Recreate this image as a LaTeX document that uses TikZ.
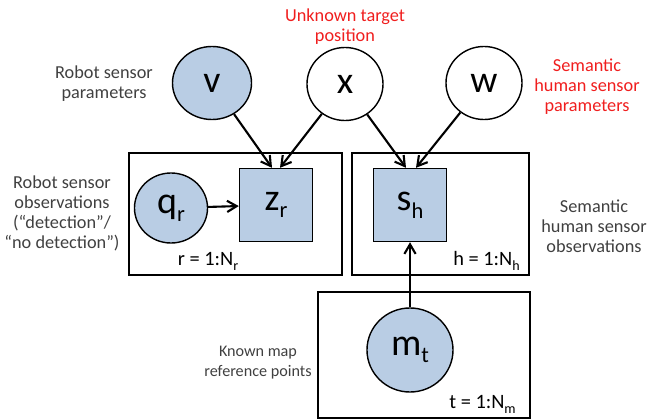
\documentclass[tikz,border=0pt]{standalone}
\usepackage{fontspec}
\setmainfont{Carlito}
\usetikzlibrary{shapes.geometric,arrows.meta,positioning,calc}
\definecolor{obsblue}{RGB}{185,205,228}
\definecolor{notered}{RGB}{240,30,30}
\definecolor{notegrey}{RGB}{64,64,64}
\tikzset{
  var/.style={ellipse, draw=black, line width=1pt, minimum width=1.9cm, minimum height=1.825cm, inner sep=0pt, font=\fontsize{27}{30}\selectfont, fill=white},
  obsvar/.style={var, fill=obsblue},
  factor/.style={rectangle, draw=black, line width=1pt, minimum size=1.825cm, inner sep=0pt, font=\fontsize{27}{30}\selectfont, fill=obsblue},
  plate/.style={rectangle, draw=black, line width=1pt, inner sep=0pt},
  platelabel/.style={font=\fontsize{14.5}{16}\selectfont, text=black, inner sep=0pt},
  note/.style={align=center, font=\fontsize{13}{14.2}\selectfont, text=notegrey, inner sep=0pt},
  rednote/.style={note, text=notered},
  kante/.style={-{Straight Barb[length=2.4mm,width=2.8mm]}, line width=1.5pt}
}
\newcommand{\varsub}[1]{\raisebox{-0.2em}{\fontsize{16}{18}\selectfont #1}}
\newcommand{\platesub}[1]{\raisebox{-0.25em}{\fontsize{10}{11}\selectfont #1}}

\begin{document}
\begin{tikzpicture}[x=0.025cm, y=-0.025cm]
\useasboundingbox (0,0) rectangle (652,420);

\node[plate, minimum width=5.325cm, minimum height=3.05cm] (plate-r) at (235.5,214) {};
\node[plate, minimum width=4.425cm, minimum height=3.05cm] (plate-h) at (440.5,214) {};
\node[plate, minimum width=5.3cm, minimum height=3.15cm] (plate-t) at (424,355) {};

\node[obsvar, minimum width=1.975cm] (v) at (212,83) {v};
\node[var] (x) at (345,84) {x};
\node[var] (w) at (484,83) {w};

\node[obsvar, minimum width=1.825cm, minimum height=1.75cm] (q-r) at (171,208) {q\varsub{r}};
\node[factor] (z-r) at (276,205) {z\varsub{r}};
\node[factor] (s-h) at (410,205) {s\varsub{h}};
\node[obsvar, minimum width=2.15cm, minimum height=2.1cm] (m-t) at (410,350) {m\varsub{t}};

\node[platelabel] (lab-r) at (208,261) {r = 1:N\platesub{r}};
\node[platelabel, anchor=east] (lab-h) at (520,261) {h = 1:N\platesub{h}};
\node[platelabel, anchor=east] (lab-t) at (516,404) {t = 1:N\platesub{m}};

\node[note] (n-v) at (104,84) {Robot sensor\\parameters};
\node[rednote] (n-x) at (345,27) {Unknown target\\position};
\node[rednote] (n-w) at (587,87) {Semantic\\human sensor\\parameters};
\node[note] (n-q) at (62,213) {Robot sensor\\observations\\(“detection”/\\“no detection”)};
\node[note] (n-s) at (594,226) {Semantic\\human sensor\\observations};
\node[note, font=\fontsize{11.5}{14.2}\selectfont] (n-m) at (258,363) {Known map\\reference points};

\coordinate (zr-in1) at ($(z-r.north)+(-4,0)$);
\coordinate (zr-in2) at ($(z-r.north)+(4,0)$);
\coordinate (sh-in1) at ($(s-h.north)+(-4,0)$);
\coordinate (sh-in2) at ($(s-h.north)+(6,0)$);
\draw[kante] (v) -- (zr-in1);
\draw[kante] (x) -- (zr-in2);
\draw[kante] (x) -- (sh-in1);
\draw[kante] (w) -- (sh-in2);
\draw[kante] (q-r) -- (z-r);
\draw[kante] (m-t) -- (s-h);

\end{tikzpicture}
\end{document}
